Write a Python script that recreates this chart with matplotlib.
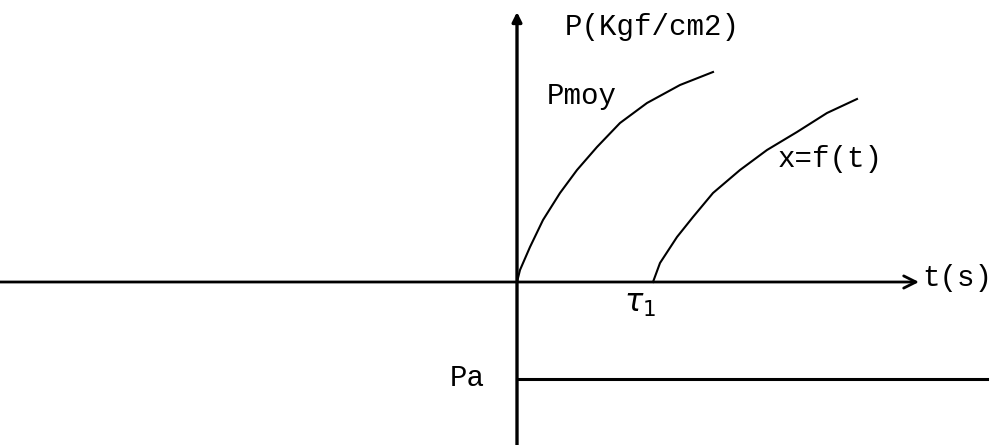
import matplotlib.pyplot as plt

# sketch units: t to the right of the origin, P upward from the t axis
pmoy_t = [0, 3, 13, 26, 43, 60, 80, 103, 130, 163, 196]
pmoy_p = [0, 12, 35, 62, 89, 112, 135, 159, 179, 197, 210]

x_t = [136, 143, 160, 176, 196, 223, 250, 280, 310, 340]
x_p = [0, 19, 45, 65, 89, 112, 132, 150, 169, 183]

pa_level = -97
pa_t = [0, 470]

plt.rcParams['font.family'] = ['Liberation Mono', 'DejaVu Sans']

fig = plt.figure(figsize=(10.03, 4.45), dpi=100)
ax = fig.add_axes([0, 0, 1, 1])
ax.set_xlim(-517, 486)
ax.set_ylim(-163, 282)
ax.axis('off')

# axes of the sketch
ax.annotate('', xy=(402, 0), xytext=(-517, 0),
            arrowprops=dict(arrowstyle='->', lw=2.0, color='black',
                            mutation_scale=22, shrinkA=0, shrinkB=0))
ax.annotate('', xy=(0, 270), xytext=(0, -163),
            arrowprops=dict(arrowstyle='-|>', lw=2.4, color='black',
                            mutation_scale=14, shrinkA=0, shrinkB=0))

# curves
ax.plot(pmoy_t, pmoy_p, color='black', lw=1.5)
ax.plot(x_t, x_p, color='black', lw=1.5)
ax.plot(pa_t, [pa_level, pa_level], color='black', lw=2.2)

fs = 21
ax.text(48, 255, 'P(Kgf/cm2)', fontsize=fs, va='center', ha='left')
ax.text(30, 186, 'Pmoy', fontsize=fs, va='center', ha='left')
ax.text(261, 123, 'x=f(t)', fontsize=fs, va='center', ha='left')
ax.text(405, 4, 't(s)', fontsize=fs, va='center', ha='left')
ax.text(-67, -96, 'Pa', fontsize=fs, va='center', ha='left')
ax.text(123, -22, r'$\tau_1$', fontsize=22, va='center', ha='center')

fig.savefig('out.png', dpi=100, facecolor='white')
